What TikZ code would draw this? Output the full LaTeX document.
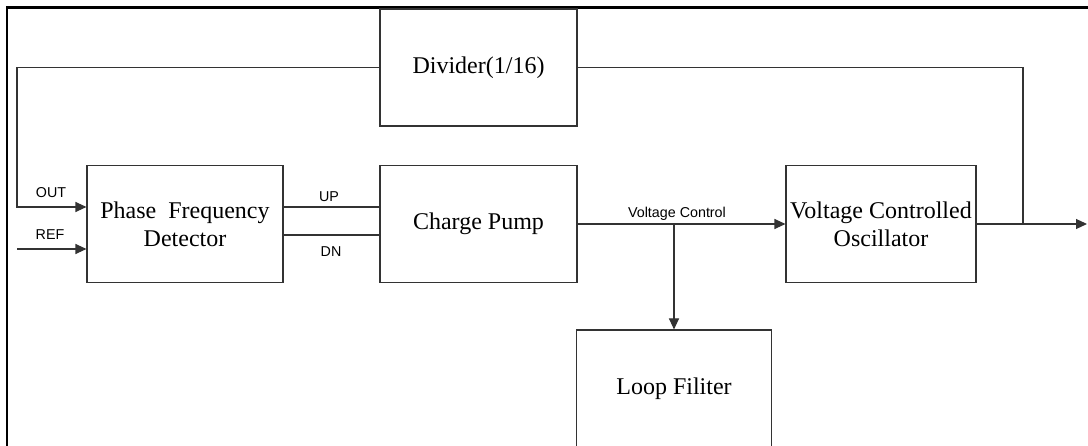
\documentclass[tikz,border=0pt]{standalone}
\usepackage{fontspec}
\setmainfont{Liberation Serif}
\newfontfamily\labelfont{Liberation Sans}
\usetikzlibrary{arrows.meta}
\begin{document}
\begin{tikzpicture}[x=1pt,y=-1pt,
  blk/.style={draw=black!80,line width=1.1pt,inner sep=0pt,minimum height=117pt,
    font=\fontsize{24}{28}\selectfont,align=center},
  wire/.style={draw=black!80,line width=1.1pt},
  arr/.style={wire,-{Triangle[length=11pt,width=10pt]}},
  lbl/.style={font=\labelfont\fontsize{14.3}{17}\selectfont,inner sep=0pt,anchor=base}]
\useasboundingbox (0,0) rectangle (1088,446);
% frame
\draw[line width=2.8pt] (7,446) -- (7,7.8) -- (1088,7.8);
% blocks
\node[blk,minimum width=197pt] (div) at (478.5,67.5) {Divider(1/16)};
\node[blk,minimum width=196pt] (pfd) at (185,224) {Phase\ \ Frequency\\Detector};
\node[blk,minimum width=197pt] (cp)  at (478.5,224) {Charge Pump};
\node[blk,minimum width=190pt] (vco) at (881,224) {Voltage Controlled\\Oscillator};
\node[blk,minimum width=195pt] (lf)  at (674,388.5) {Loop Filiter};
% helper coordinates
\coordinate (outc) at (17,207);
\coordinate (refc) at (17,249);
\coordinate (upc)  at (0,207);
\coordinate (dnc)  at (0,235);
\coordinate (br)   at (674,224);
\coordinate (tap)  at (1023,224);
\coordinate (outend) at (1087,224);
% connectors
\draw[arr] (div.west) -| (outc) -- (pfd.west |- outc);
\draw[arr] (refc) -- (pfd.west |- refc);
\draw[wire] (pfd.east |- upc) -- (cp.west |- upc);
\draw[wire] (pfd.east |- dnc) -- (cp.west |- dnc);
\draw[arr] (cp.east) -- (vco.west);
\draw[arr] (br) -- (lf.north);
\draw[arr] (vco.east) -- (outend);
\draw[wire] (tap) |- (div.east);
% labels
\node[lbl] (lout) at (51,198) {OUT};
\node[lbl] (lref) at (50,240) {REF};
\node[lbl] (lup)  at (329,202) {UP};
\node[lbl] (ldn)  at (331,256.5) {DN};
\node[lbl] (lvc)  at (677,218) {Voltage Control};
\end{tikzpicture}
\end{document}
